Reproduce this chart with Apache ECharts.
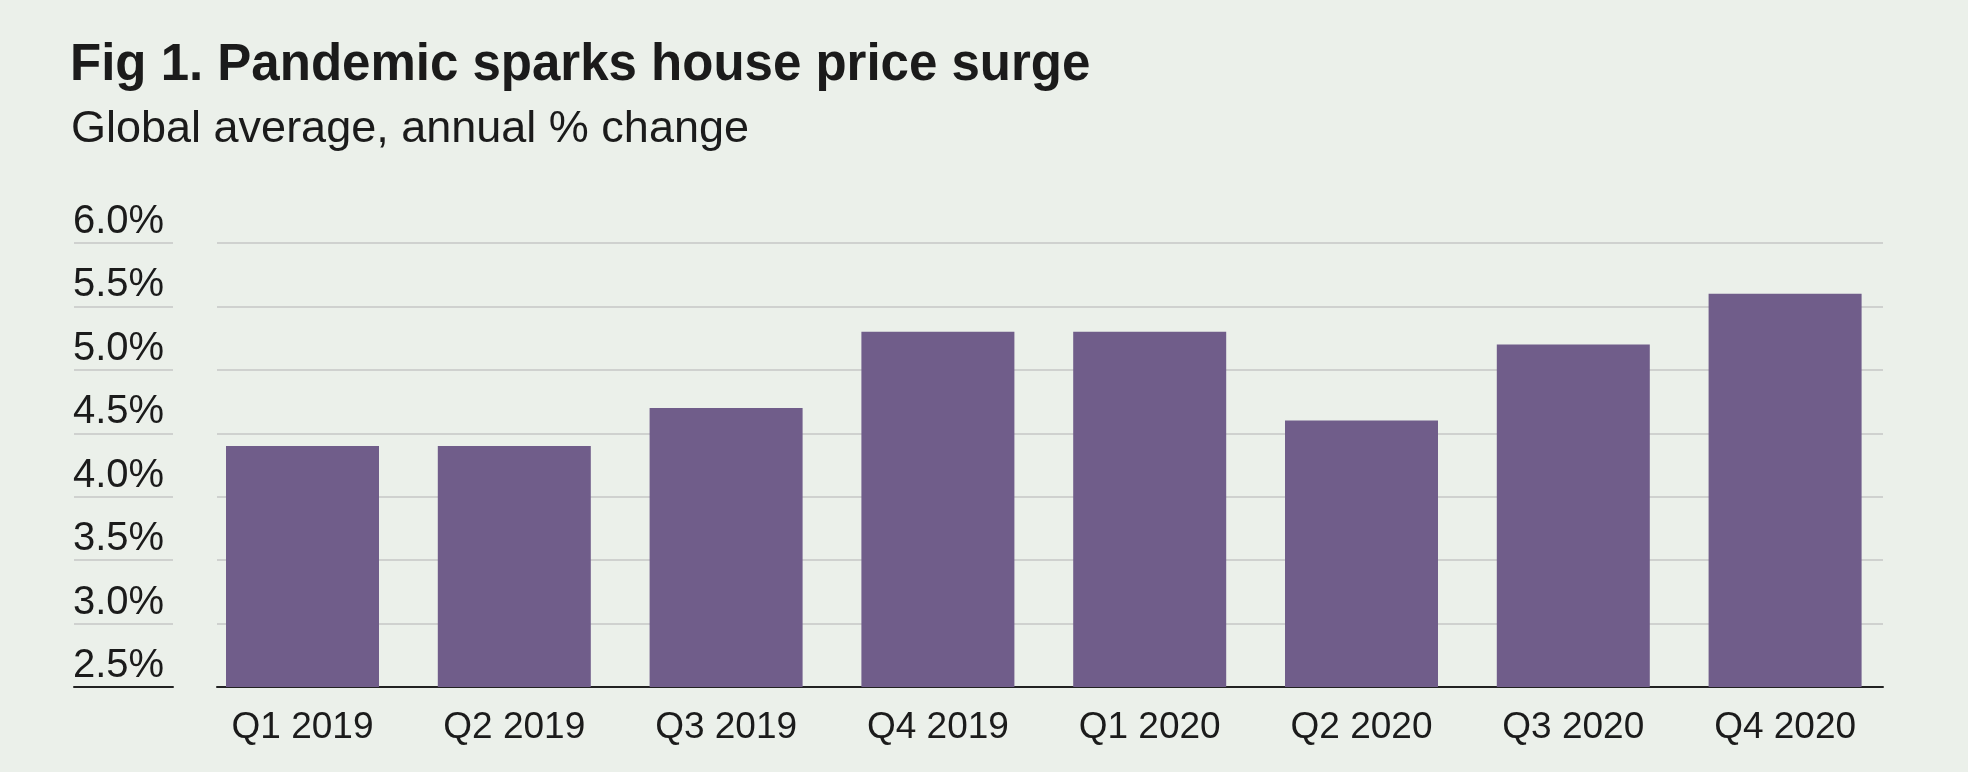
<!DOCTYPE html>
<html><head><meta charset="utf-8">
<script src="https://cdn.jsdelivr.net/npm/echarts@6/dist/echarts.min.js"></script>
<style>html,body{margin:0;padding:0;background:#ebf0ea}#c{width:1968px;height:772px}</style>
</head><body><div id="c"></div>
<script>
const categories = ['Q1 2019','Q2 2019','Q3 2019','Q4 2019','Q1 2020','Q2 2020','Q3 2020','Q4 2020'];
const values = [4.4, 4.4, 4.7, 5.3, 5.3, 4.6, 5.2, 5.6];
const yMin = 2.5, yMax = 6.0, yStep = 0.5;
const titleText = 'Fig 1. Pandemic sparks house price surge';
const subtitleText = 'Global average, annual % change';

(function(){
const FONT = '"Liberation Sans", Arial, sans-serif';
const TXT = '#1b1b1b';
const chart = echarts.init(document.getElementById('c'));
const gTop = 243, gBottom = 85;
chart.setOption({
  backgroundColor: '#ebf0ea',
  animation: false,
  title: [
    {text: titleText, left: 65, top: 35, textStyle:{fontFamily: FONT, fontWeight:'bold', fontSize: 51, color: TXT}},
    {text: subtitleText, left: 66, top: 102, textStyle:{fontFamily: FONT, fontWeight:'normal', fontSize: 45, color: TXT}}
  ],
  grid: [
    {left: 196.6, right: 77, top: gTop, bottom: gBottom},
    {left: 217, right: 85, top: gTop, bottom: gBottom},
    {left: 74, width: 99, top: gTop, bottom: gBottom}
  ],
  xAxis: [
    {gridIndex:0, type:'category', data: categories, axisLine:{show:false}, axisTick:{show:false},
     axisLabel:{fontFamily: FONT, fontSize: 37, color: TXT, margin: 22}},
    {gridIndex:1, type:'category', data: categories, axisLine:{show:true, lineStyle:{color:'#222', width:2}}, axisTick:{show:false}, axisLabel:{show:false}},
    {gridIndex:2, type:'category', data: [''], axisLine:{show:true, lineStyle:{color:'#222', width:2}}, axisTick:{show:false}, axisLabel:{show:false}}
  ],
  yAxis: [
    {gridIndex:0, type:'value', min:yMin, max:yMax, interval:yStep, show:false},
    {gridIndex:1, type:'value', min:yMin, max:yMax, interval:yStep, axisLine:{show:false}, axisTick:{show:false}, axisLabel:{show:false},
     splitLine:{show:true, lineStyle:{color:'#cfd1cf', width:2}}},
    {gridIndex:2, type:'value', min:yMin, max:yMax, interval:yStep, axisLine:{show:false}, axisTick:{show:false},
     splitLine:{show:true, lineStyle:{color:'#cfd1cf', width:2}},
     axisLabel:{inside:true, margin:-1, align:'left', verticalAlign:'bottom', padding:[0,0,1,0],
       fontFamily: FONT, fontSize: 40, color: TXT, formatter: v => v.toFixed(1)+'%'}}
  ],
  series: [{
    type:'bar', xAxisIndex:0, yAxisIndex:0, data: values, barWidth: 153,
    itemStyle:{color:'#705d8a'}
  }]
});
})();
</script></body></html>
